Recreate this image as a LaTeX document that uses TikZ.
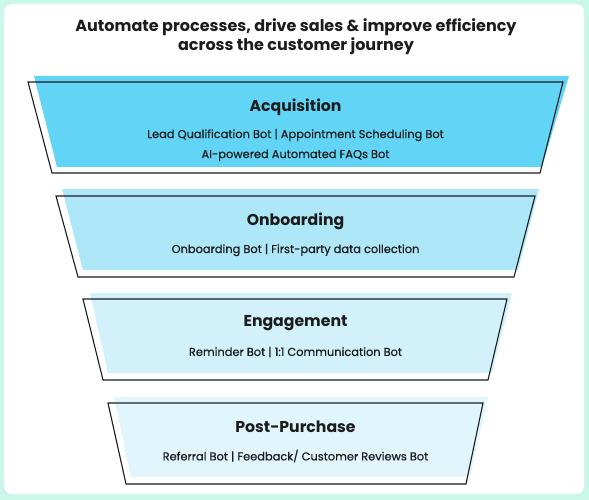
\documentclass[tikz,border=0pt]{standalone}
\usepackage{fontspec}
\setmainfont{Poppins}
\newfontfamily\botsfont[FakeBold=0.6]{Poppins}
\usetikzlibrary{positioning}

\definecolor{mint}{HTML}{CBF7E8}
\definecolor{ink}{HTML}{1C1C1C}
\definecolor{acqfill}{HTML}{62D5F7}
\definecolor{onbfill}{HTML}{AEE7F8}
\definecolor{engfill}{HTML}{D2F1FB}
\definecolor{postfill}{HTML}{E1F6FC}

\begin{document}
\begin{tikzpicture}[x=1pt,y=-1pt,node distance=29pt,
    layer/.style={draw=ink,line width=1.1pt},
    heading/.style={font=\bfseries\fontsize{16}{19.5}\selectfont,text=ink,align=center},
    stage/.style={font=\bfseries\fontsize{15.7}{19}\selectfont,text=ink},
    bots/.style={font=\botsfont\fontsize{11.4}{20}\selectfont,text=ink,align=center}]

\useasboundingbox (0,0) rectangle (589,500);
\fill[mint] (0,0) rectangle (589,500);
\fill[white,rounded corners=8pt] (4,4) rectangle (584,494);

\node[heading] (title) at (296,36.5)
  {Automate processes, drive sales \& improve efficiency\\across the customer journey};

% funnel layers
\fill[acqfill] (34,76) -- (569,76) -- (542,167) -- (57,167) -- cycle;
\draw[layer] (28,82) -- (563,82) -- (540,173) -- (52,173) -- cycle;

\fill[onbfill] (62,189) -- (539,189) -- (518,270) -- (83,270) -- cycle;
\draw[layer] (56,196) -- (535,196) -- (514,277) -- (78,277) -- cycle;

\fill[engfill] (90,293) -- (512,293) -- (492,373) -- (108,373) -- cycle;
\draw[layer] (83,299) -- (507,299) -- (488,380) -- (103,380) -- cycle;

\fill[postfill] (114,397) -- (488,397) -- (470,477) -- (131,477) -- cycle;
\draw[layer] (108,403) -- (483,403) -- (466,484) -- (126,484) -- cycle;

% labels
\node[stage] (acq) at (295.5,107) {Acquisition};
\node[bots] (acqbots) [below of=acq,node distance=38pt]
  {Lead Qualification Bot | Appointment Scheduling Bot\\AI-powered Automated FAQs Bot};

\node[stage] (onb) at (295.5,221) {Onboarding};
\node[bots] (onbbots) [below of=onb] {Onboarding Bot | First-party data collection};

\node[stage] (eng) at (295.5,323) {Engagement};
\node[bots] (engbots) [below of=eng] {Reminder Bot | 1:1 Communication Bot};

\node[stage] (post) at (295.5,427) {Post-Purchase};
\node[bots] (postbots) [below of=post] {Referral Bot | Feedback/ Customer Reviews Bot};

\end{tikzpicture}
\end{document}
